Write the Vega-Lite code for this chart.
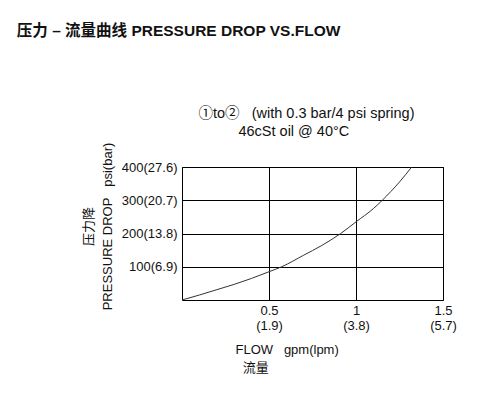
{
  "$schema": "https://vega.github.io/schema/vega-lite/v6.json",
  "background": "white",
  "padding": {"left": 16, "top": 24, "right": 5, "bottom": 5},
  "title": {
    "text": "压力 – 流量曲线 PRESSURE DROP VS.FLOW",
    "anchor": "start",
    "frame": "bounds",
    "font": "Liberation Sans, Noto Sans CJK SC",
    "fontSize": 15.5,
    "fontWeight": "bold",
    "color": "#111111",
    "dx": -65,
    "offset": 66
  },
  "config": {
    "view": {"stroke": "black", "strokeWidth": 1},
    "font": "Liberation Sans, Noto Sans CJK SC",
    "axis": {
      "grid": true,
      "gridColor": "black",
      "gridOpacity": 1,
      "gridWidth": 1,
      "domain": false,
      "ticks": false,
      "labelFont": "Liberation Sans, Noto Sans CJK SC",
      "labelFontSize": 13,
      "labelColor": "#111111",
      "labelFlush": false,
      "labelOverlap": false,
      "titleFont": "Liberation Sans, Noto Sans CJK SC",
      "titleFontSize": 13,
      "titleFontWeight": "normal",
      "titleColor": "#111111"
    }
  },
  "vconcat": [
    {
      "width": 261,
      "height": 133,
      "title": {
        "text": "①to②\u00a0\u00a0\u00a0(with 0.3 bar/4 psi spring)",
        "subtitle": "46cSt oil @ 40°C\u2800\u00a0\u2800",
        "anchor": "middle",
        "font": "Liberation Sans, Noto Sans CJK SC",
        "fontSize": 14.5,
        "fontWeight": "normal",
        "color": "#111111",
        "subtitleFont": "Liberation Sans, DejaVu Sans",
        "subtitleFontSize": 14.5,
        "subtitleColor": "#111111",
        "subtitlePadding": 3,
        "offset": 3,
        "dx": -6
      },
      "data": {
        "values": [
          {"flow": 0, "psi": 0},
          {"flow": 0.1, "psi": 15},
          {"flow": 0.2, "psi": 31},
          {"flow": 0.3, "psi": 47},
          {"flow": 0.4, "psi": 65},
          {"flow": 0.5, "psi": 85},
          {"flow": 0.573, "psi": 100},
          {"flow": 0.7, "psi": 135},
          {"flow": 0.8, "psi": 163},
          {"flow": 0.912, "psi": 200},
          {"flow": 1.0, "psi": 235},
          {"flow": 1.1, "psi": 275},
          {"flow": 1.151, "psi": 300},
          {"flow": 1.25, "psi": 355},
          {"flow": 1.32, "psi": 400}
        ]
      },
      "mark": {"type": "line", "color": "#333333", "strokeWidth": 1, "interpolate": "monotone", "clip": true},
      "encoding": {
        "x": {
          "field": "flow",
          "type": "quantitative",
          "scale": {"domain": [0, 1.5], "nice": false},
          "axis": {
            "values": [0.5, 1, 1.5],
            "labelPadding": 4,
            "labelLineHeight": 15,
            "labelExpr": "datum.value == 0.5 ? ['0.5', '(1.9)'] : datum.value == 1 ? ['1', '(3.8)'] : ['1.5', '(5.7)']",
            "title": ["FLOW\u00a0\u00a0\u00a0gpm(lpm)", "\u200b\u00a0\u00a0流量"],
            "titleAlign": "left",
            "titleAnchor": "start",
            "titleX": 53,
            "titleY": 43,
            "titleBaseline": "top",
            "titleLineHeight": 18
          }
        },
        "y": {
          "field": "psi",
          "type": "quantitative",
          "scale": {"domain": [0, 400], "nice": false},
          "axis": {
            "values": [100, 200, 300, 400],
            "labelPadding": 5,
            "labelExpr": "datum.value == 100 ? '100(6.9)' : datum.value == 200 ? '200(13.8)' : datum.value == 300 ? '300(20.7)' : '400(27.6)'",
            "title": ["压力降", "PRESSURE DROP\u00a0\u00a0\u00a0psi(bar)"],
            "titlePadding": 7,
            "titleLineHeight": 19,
            "titleY": 59
          }
        }
      }
    }
  ]
}
